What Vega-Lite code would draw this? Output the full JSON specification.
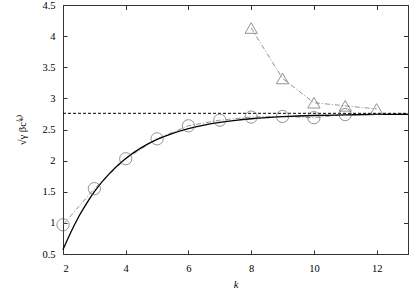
{
  "$schema": "https://vega.github.io/schema/vega-lite/v6.json",
  "width": 345,
  "height": 249,
  "autosize": {"type": "none"},
  "padding": {"left": 63, "top": 5, "right": 1, "bottom": 37},
  "background": "white",
  "config": {
    "view": {"stroke": "#333333", "strokeWidth": 1},
    "font": "Liberation Serif",
    "axis": {
      "grid": false,
      "domain": false,
      "tickColor": "#333333",
      "tickSize": -4,
      "labelColor": "black",
      "labelFont": "Liberation Serif",
      "labelFontSize": 10.5,
      "titleFont": "Liberation Serif",
      "titleFontSize": 10.5,
      "titleFontWeight": "normal",
      "titleColor": "black"
    }
  },
  "datasets": {
    "curve": [
      {"k": 2, "v": 0.57}, {"k": 2.25, "v": 0.85}, {"k": 2.5, "v": 1.099}, {"k": 2.75, "v": 1.31},
      {"k": 3, "v": 1.501}, {"k": 3.5, "v": 1.804}, {"k": 4, "v": 2.034}, {"k": 4.5, "v": 2.208},
      {"k": 5, "v": 2.34}, {"k": 5.5, "v": 2.439}, {"k": 6, "v": 2.515}, {"k": 6.5, "v": 2.572},
      {"k": 7, "v": 2.615}, {"k": 7.5, "v": 2.648}, {"k": 8, "v": 2.673}, {"k": 8.5, "v": 2.692},
      {"k": 9, "v": 2.706}, {"k": 9.5, "v": 2.717}, {"k": 10, "v": 2.725}, {"k": 11, "v": 2.735},
      {"k": 12, "v": 2.742}, {"k": 13, "v": 2.745}
    ],
    "circles": [
      {"k": 2, "v": 0.97}, {"k": 3, "v": 1.55}, {"k": 4, "v": 2.03}, {"k": 5, "v": 2.35},
      {"k": 6, "v": 2.56}, {"k": 7, "v": 2.65}, {"k": 8, "v": 2.7}, {"k": 9, "v": 2.71},
      {"k": 10, "v": 2.69}, {"k": 11, "v": 2.74}
    ],
    "triangles": [
      {"k": 8, "v": 4.13}, {"k": 9, "v": 3.32}, {"k": 10, "v": 2.93}, {"k": 11, "v": 2.88}, {"k": 12, "v": 2.83}
    ],
    "hline": [{"k": 2, "v": 2.76}, {"k": 13, "v": 2.76}]
  },
  "encoding": {
    "x": {
      "field": "k", "type": "quantitative",
      "scale": {"domain": [2, 13], "nice": false},
      "axis": {"values": [2, 4, 6, 8, 10, 12], "title": "k", "titleFontStyle": "italic", "labelPadding": 13, "titlePadding": 6}
    },
    "y": {
      "field": "v", "type": "quantitative",
      "scale": {"domain": [0.5, 4.5], "nice": false},
      "axis": {"values": [0.5, 1, 1.5, 2, 2.5, 3, 3.5, 4, 4.5], "format": "~g", "title": "√γ βc⁽ᵏ⁾", "labelPadding": 12, "titlePadding": 14}
    }
  },
  "layer": [
    {
      "data": {"name": "hline"},
      "mark": {"type": "line", "color": "black", "strokeWidth": 1, "strokeDash": [3, 2]}
    },
    {
      "data": {"name": "circles"},
      "mark": {"type": "line", "color": "#777777", "strokeWidth": 0.8, "strokeDash": [5, 2, 1, 2]}
    },
    {
      "data": {"name": "triangles"},
      "mark": {"type": "line", "color": "#777777", "strokeWidth": 0.8, "strokeDash": [5, 2, 1, 2]}
    },
    {
      "data": {"name": "curve"},
      "mark": {"type": "line", "color": "black", "strokeWidth": 1.3, "interpolate": "monotone"}
    },
    {
      "data": {"name": "circles"},
      "mark": {"type": "point", "shape": "circle", "size": 150, "stroke": "#555555", "strokeWidth": 0.9, "filled": false}
    },
    {
      "data": {"name": "triangles"},
      "mark": {"type": "point", "shape": "triangle-up", "size": 150, "stroke": "#555555", "strokeWidth": 0.9, "filled": false}
    },
    {
      "data": {"name": "hline"},
      "mark": {"type": "point", "opacity": 0},
      "encoding": {
        "x": {"field": "k", "type": "quantitative", "axis": {"orient": "top", "values": [2, 4, 6, 8, 10, 12], "labels": false, "title": null}},
        "y": {"field": "v", "type": "quantitative", "axis": {"orient": "right", "values": [0.5, 1, 1.5, 2, 2.5, 3, 3.5, 4, 4.5], "labels": false, "title": null}}
      }
    }
  ],
  "resolve": {"axis": {"x": "independent", "y": "independent"}}
}
